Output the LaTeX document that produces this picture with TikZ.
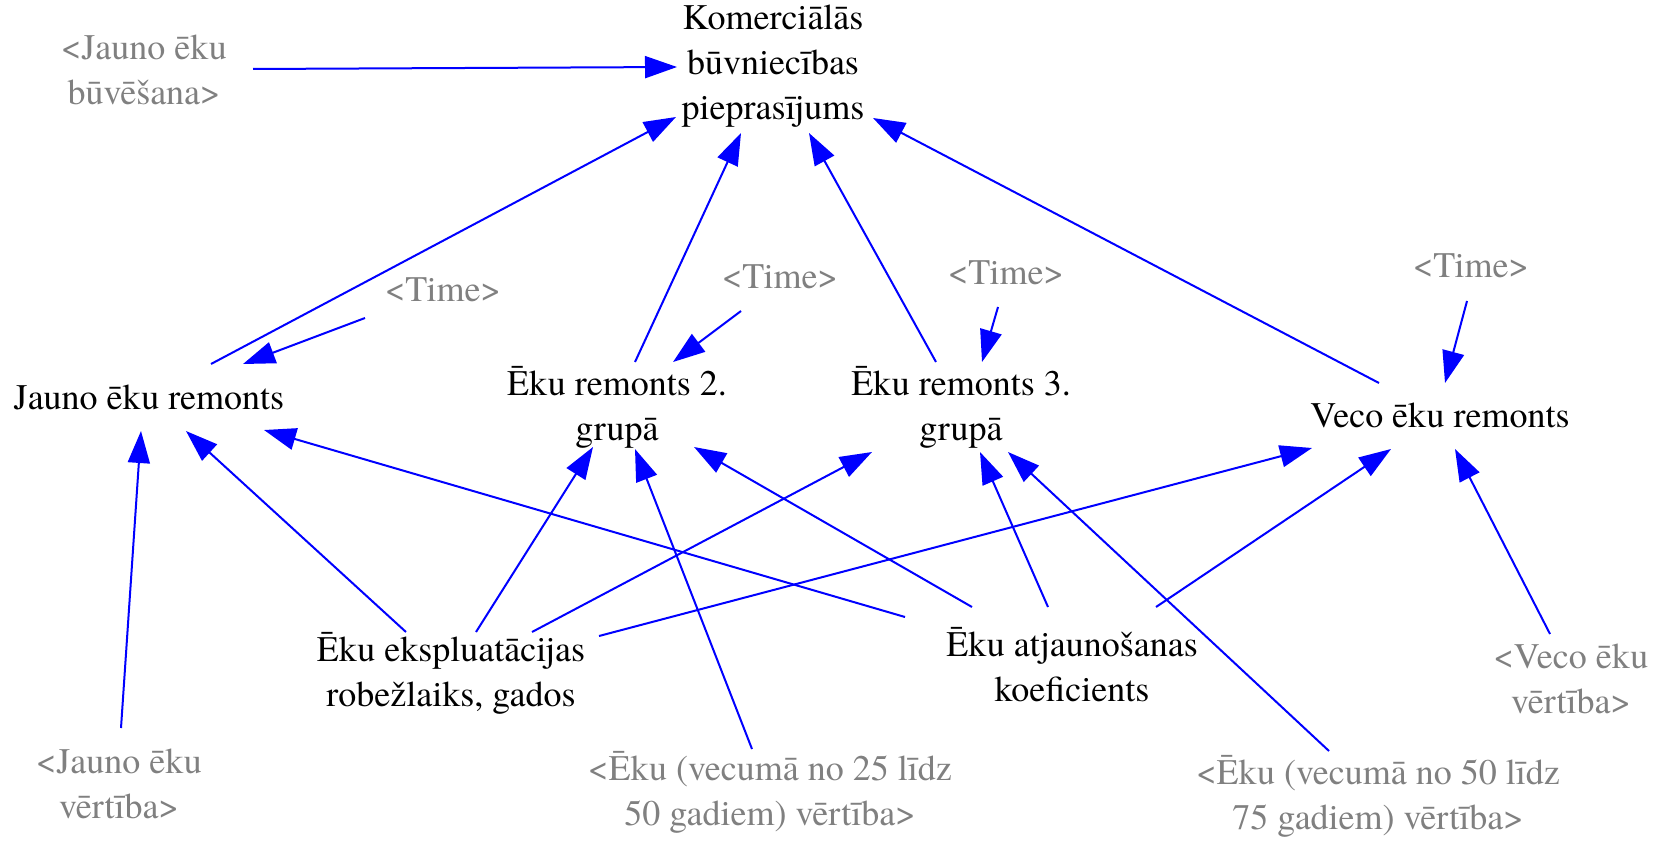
\documentclass[tikz,border=0pt]{standalone}
\usepackage{fontspec}
\setmainfont{TeX Gyre Termes}
\usetikzlibrary{arrows.meta}
\tikzset{
  txt/.style={align=center, inner sep=0pt, font=\fontsize{18}{22.5}\selectfont, text=black},
  ghost/.style={txt, text=gray},
  arr/.style={draw=blue, line width=1pt, -{Triangle[length=16pt,width=11pt]}},
}
\begin{document}
\begin{tikzpicture}[x=0.5pt,y=-0.5pt]
\useasboundingbox (0,0) rectangle (1668,840);
% nodes
\node[txt] (kom) at (773,66) {Komerciālās\\būvniecības\\pieprasījums};
\node[ghost] (jbuv) at (144,70) {<Jauno ēku\\būvēšana>};
\node[txt] (jrem) at (149,397) {Jauno ēku remonts};
\node[ghost] (t1) at (443,290) {<Time>};
\node[txt] (r2) at (617,407) {Ēku remonts 2.\\grupā};
\node[ghost] (t2) at (780,277) {<Time>};
\node[txt] (r3) at (961,407) {Ēku remonts 3.\\grupā};
\node[ghost] (t3) at (1006,273) {<Time>};
\node[txt] (veco) at (1440,415) {Veco ēku remonts};
\node[ghost] (t4) at (1471,266) {<Time>};
\node[txt] (eksp) at (451,673) {Ēku ekspluatācijas\\robežlaiks, gados};
\node[txt] (atj) at (1072,665) {Ēku atjaunošanas\\koeficients};
\node[ghost] (jval) at (119,784) {<Jauno ēku\\vērtība>};
\node[ghost] (v25) at (770,792) {<Ēku (vecumā no 25 līdz\\50 gadiem) vērtība>};
\node[ghost] (v50) at (1378,796) {<Ēku (vecumā no 50 līdz\\75 gadiem) vērtība>};
\node[ghost] (vval) at (1571,679) {<Veco ēku\\vērtība>};
% arrows
\draw[arr] ([shift={(109,-1)}]jbuv.center) -- ([shift={(-96,1)}]kom.center);
\draw[arr] ([shift={(62,-33)}]jrem.center) -- ([shift={(-97,51)}]kom.center);
\draw[arr] ([shift={(18,-45)}]r2.center) -- ([shift={(-32,67)}]kom.center);
\draw[arr] ([shift={(-25,-45)}]r3.center) -- ([shift={(36,67)}]kom.center);
\draw[arr] ([shift={(-61,-32)}]veco.center) -- ([shift={(100,52)}]kom.center);
\draw[arr] ([shift={(-78,28)}]t1.center) -- ([shift={(94,-33)}]jrem.center);
\draw[arr] ([shift={(-39,34)}]t2.center) -- ([shift={(56,-45)}]r2.center);
\draw[arr] ([shift={(-8,34)}]t3.center) -- ([shift={(21,-45)}]r3.center);
\draw[arr] ([shift={(-4,35)}]t4.center) -- ([shift={(5,-32)}]veco.center);
\draw[arr] ([shift={(-45,-41)}]eksp.center) -- ([shift={(37,34)}]jrem.center);
\draw[arr] ([shift={(25,-41)}]eksp.center) -- ([shift={(-24,40)}]r2.center);
\draw[arr] ([shift={(81,-41)}]eksp.center) -- ([shift={(-89,45)}]r3.center);
\draw[arr] ([shift={(148,-37)}]eksp.center) -- ([shift={(-128,33)}]veco.center);
\draw[arr] ([shift={(-167,-48)}]atj.center) -- ([shift={(115,33)}]jrem.center);
\draw[arr] ([shift={(-100,-58)}]atj.center) -- ([shift={(77,40)}]r2.center);
\draw[arr] ([shift={(-24,-58)}]atj.center) -- ([shift={(19,45)}]r3.center);
\draw[arr] ([shift={(84,-58)}]atj.center) -- ([shift={(-49,34)}]veco.center);
\draw[arr] ([shift={(2,-56)}]jval.center) -- ([shift={(-8,34)}]jrem.center);
\draw[arr] ([shift={(-18,-43)}]v25.center) -- ([shift={(18,42)}]r2.center);
\draw[arr] ([shift={(-49,-45)}]v50.center) -- ([shift={(47,45)}]r3.center);
\draw[arr] ([shift={(-21,-45)}]vval.center) -- ([shift={(15,34)}]veco.center);
\end{tikzpicture}
\end{document}
